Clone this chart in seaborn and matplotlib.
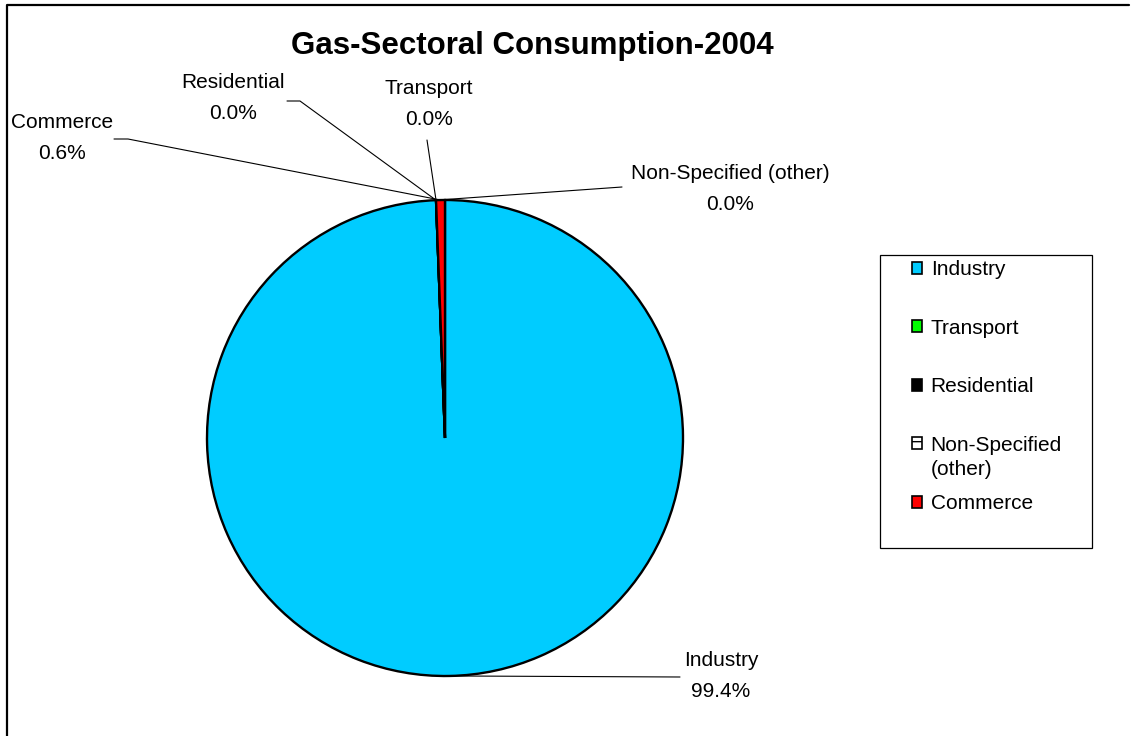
import numpy as np
import seaborn as sns
import matplotlib.pyplot as plt
from matplotlib.patches import Patch

# Gas-Sectoral Consumption-2004 (pie, Excel style)

sectors = ["Industry", "Transport", "Residential", "Non-Specified (other)", "Commerce"]
shares = [99.4, 0.0, 0.0, 0.0, 0.6]
colors = ["#00CCFF", "#00FF00", "#000000", "#FFFFFF", "#FF0000"]
hatches = [None, None, None, "+", None]

sns.set_style("white")
plt.rcParams["font.family"] = ["Liberation Sans", "DejaVu Sans"]
plt.rcParams["text.color"] = "black"

W, H = 1134, 736
fig = plt.figure(figsize=(W / 100, H / 100), dpi=100)
ax = fig.add_axes([0, 0, 1, 1])

cx, cy, r = 445, H - 438, 238
wedges, _ = ax.pie(shares, colors=colors, startangle=90, counterclock=False,
                   center=(cx, cy), radius=r, frame=True,
                   wedgeprops=dict(edgecolor="black", linewidth=1.7))
ax.set_xlim(0, W)
ax.set_ylim(0, H)
ax.set_axis_off()

# label position (text centre) and leader elbow, in pixels from top-left
lab_pos = {
    "Industry": (721, 676),
    "Transport": (429, 104),
    "Residential": (233, 98),
    "Non-Specified (other)": (730, 189),
    "Commerce": (62, 138),
}
elbow = {
    "Industry": [(680, 677)],
    "Transport": [(427, 140)],
    "Residential": [(287, 101), (300, 101)],
    "Non-Specified (other)": [(622, 187)],
    "Commerce": [(114, 139), (128, 139)],
}

for w, name, val in zip(wedges, sectors, shares):
    mid = np.deg2rad((w.theta1 + w.theta2) / 2)
    ax_pt = (cx + r * np.cos(mid), cy + r * np.sin(mid))
    pts = [(x, H - y) for x, y in elbow[name]]
    if name in ("Residential", "Commerce"):
        line = pts + [ax_pt]
    else:
        line = [ax_pt] + pts
    xs, ys = zip(*line)
    ax.plot(xs, ys, color="black", lw=0.8)
    tx, ty = lab_pos[name]
    ax.text(tx, H - ty, f"{name}\n{val:.1f}%", ha="center", va="center",
            fontsize=15, linespacing=1.85)

ax.text(532, H - 46, "Gas-Sectoral Consumption-2004", ha="center", va="center",
        fontsize=22.5, fontweight="bold")

# outer chart frame (cropped at right and bottom)
ax.plot([7, 7, 1129], [0, H - 5, H - 5], color="black", lw=1.6)

# legend box
ax.add_patch(plt.Rectangle((880, H - 548), 212, 293, facecolor="white",
                           edgecolor="black", lw=0.9))
handles = [Patch(facecolor=c, edgecolor="black", hatch=h, lw=1.2)
           for c, h in zip(colors, hatches)]
# the wrapped second line of a long name is drawn separately so the
# entry spacing stays even, as in the original legend
leg_labels = [s.split(" (")[0] for s in sectors]
leg = ax.legend(handles, leg_labels, loc="upper left",
                bbox_to_anchor=(912 / W, 1 - 260 / H), frameon=False,
                fontsize=15, handlelength=0.5, handleheight=0.5,
                handletextpad=0.4, labelspacing=1.9, borderaxespad=0, borderpad=0)
fig.canvas.draw()
for s, t in zip(sectors, leg.get_texts()):
    if " (" in s:
        bb = t.get_window_extent().transformed(ax.transData.inverted())
        ax.text(bb.x0, bb.y0 - 24, "(" + s.split(" (")[1], ha="left",
                va="bottom", fontsize=15)

fig.savefig("out.png", dpi=100)
